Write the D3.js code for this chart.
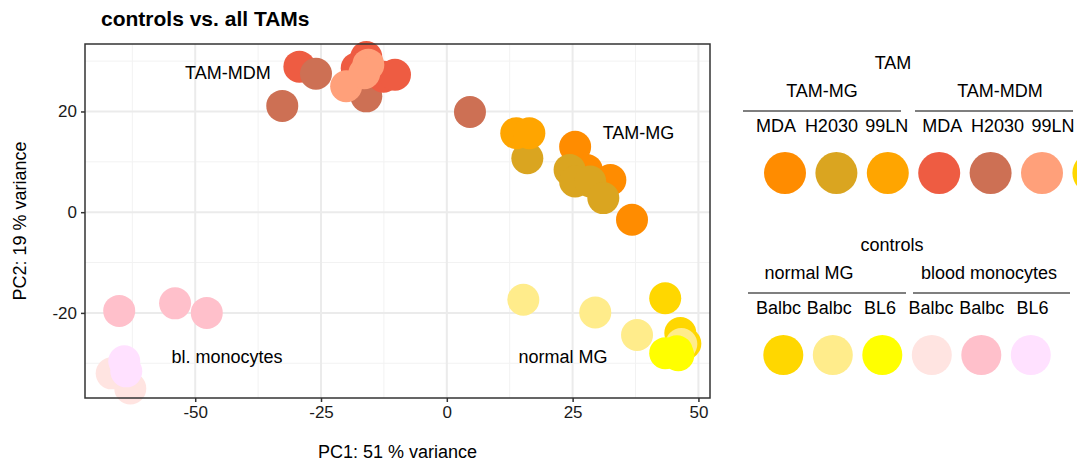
<!DOCTYPE html>
<html>
<head>
<meta charset="utf-8">
<script src="https://cdn.jsdelivr.net/npm/d3@7"></script>
<style>
  body { margin: 0; background: #fff; }
  text { font-family: "Liberation Sans", Arial, sans-serif; }
</style>
</head>
<body>
<script>
/* data */
var groupColors = {
    'TAM-MG MDA': '#FF8C00', 'TAM-MG H2030': '#DAA520', 'TAM-MG 99LN': '#FFA500',
    'TAM-MDM MDA': '#EE5C42', 'TAM-MDM H2030': '#CD7054', 'TAM-MDM 99LN': '#FFA07A',
    'MG Balbc': '#FFD700', 'MG Balbc2': '#FFEC8B', 'MG BL6': '#FFFF00',
    'mono Balbc': '#FFE4E1', 'mono Balbc2': '#FFC0CB', 'mono BL6': '#FFE1FF'
}

// samples, in drawing order
var sampleGroup = [
    'TAM-MDM H2030', 'TAM-MDM MDA', 'TAM-MDM MDA', 'TAM-MDM MDA', 'TAM-MDM MDA', 'TAM-MDM MDA',
    'TAM-MDM H2030', 'TAM-MDM H2030', 'TAM-MDM H2030',
    'TAM-MDM 99LN', 'TAM-MDM 99LN', 'TAM-MDM 99LN',
    'TAM-MG MDA', 'TAM-MG MDA', 'TAM-MG MDA', 'TAM-MG MDA',
    'TAM-MG H2030', 'TAM-MG H2030', 'TAM-MG H2030', 'TAM-MG H2030', 'TAM-MG H2030',
    'TAM-MG 99LN', 'TAM-MG 99LN',
    'MG Balbc', 'MG Balbc', 'MG Balbc',
    'MG Balbc2', 'MG Balbc2', 'MG Balbc2', 'MG Balbc2',
    'MG BL6', 'MG BL6', 'MG BL6',
    'mono Balbc', 'mono Balbc',
    'mono Balbc2', 'mono Balbc2', 'mono Balbc2',
    'mono BL6', 'mono BL6'
]
var pc1 = [
    -16.0, -29.3, -16.0, -17.9, -12.6, -10.3,
    -26.0, -32.7, 4.6,
    -20.0, -15.6, -16.4,
    25.5, 27.8, 32.5, 36.8,
    16.0, 24.4, 25.5, 28.5, 31.1,
    13.8, 16.4,
    43.4, 46.4, 47.4,
    15.2, 29.5, 37.8, 46.6,
    43.4, 45.7, 46.0,
    -66.6, -62.9,
    -65.1, -54.0, -47.7,
    -64.1, -63.7
]
var pc2 = [
    23.0, 28.9, 30.8, 28.6, 26.9, 27.3,
    27.5, 21.1, 19.9,
    25.0, 29.3, 27.6,
    13.0, 8.4, 6.4, -1.5,
    10.7, 8.4, 6.1, 6.1, 2.8,
    15.7, 15.7,
    -17.1, -24.0, -26.1,
    -17.4, -19.9, -24.4, -26.2,
    -28.0, -27.6, -28.4,
    -32.0, -35.0,
    -19.6, -18.1, -20.0,
    -29.6, -31.6
]

var xTicks = [-50, -25, 0, 25, 50]
var xMinor = [-62.5, -37.5, -12.5, 12.5, 37.5]
var yTicks = [-20, 0, 20]
var yMinor = [-30, -10, 10, 30]

var plotLabels = [
    { text: 'TAM-MDM', x: -43.5, y: 27.7 },
    { text: 'TAM-MG', x: 38.1, y: 15.8 },
    { text: 'bl. monocytes', x: -43.7, y: -28.7 },
    { text: 'normal MG', x: 23.1, y: -28.7 }
]

var tamTitle = 'TAM'
var tamHeads = ['TAM-MG', 'TAM-MDM']
var tamSub = ['MDA', 'H2030', '99LN', 'MDA', 'H2030', '99LN']
var tamKeys = ['TAM-MG MDA', 'TAM-MG H2030', 'TAM-MG 99LN', 'TAM-MDM MDA', 'TAM-MDM H2030', 'TAM-MDM 99LN', 'MG Balbc']

var ctrlTitle = 'controls'
var ctrlHeads = ['normal MG', 'blood monocytes']
var ctrlSub = ['Balbc', 'Balbc', 'BL6', 'Balbc', 'Balbc', 'BL6']
var ctrlKeys = ['MG Balbc', 'MG Balbc2', 'MG BL6', 'mono Balbc', 'mono Balbc2', 'mono BL6']

/* setup */
var width = 1077, height = 463
var panel = { left: 85, right: 710, top: 44, bottom: 398 }

var svg = d3.select('body').append('svg')
    .attr('width', width)
    .attr('height', height)

var x = d3.scaleLinear().domain([-71.9, 52.3]).range([panel.left, panel.right])
var y = d3.scaleLinear().domain([-36.9, 33.4]).range([panel.bottom, panel.top])

svg.append('text')
    .attr('x', 101).attr('y', 26)
    .style('font-size', '21px').style('font-weight', 'bold')
    .text('controls vs. all TAMs')

/* grid */
var grid = svg.append('g')
grid.selectAll('.xminor').data(xMinor).enter().append('line')
    .attr('x1', x).attr('x2', x).attr('y1', panel.top).attr('y2', panel.bottom)
    .attr('stroke', '#F2F2F2').attr('stroke-width', 1)
grid.selectAll('.yminor').data(yMinor).enter().append('line')
    .attr('y1', y).attr('y2', y).attr('x1', panel.left).attr('x2', panel.right)
    .attr('stroke', '#F2F2F2').attr('stroke-width', 1)
grid.selectAll('.xmajor').data(xTicks).enter().append('line')
    .attr('x1', x).attr('x2', x).attr('y1', panel.top).attr('y2', panel.bottom)
    .attr('stroke', '#EBEBEB').attr('stroke-width', 2)
grid.selectAll('.ymajor').data(yTicks).enter().append('line')
    .attr('y1', y).attr('y2', y).attr('x1', panel.left).attr('x2', panel.right)
    .attr('stroke', '#EBEBEB').attr('stroke-width', 2)

/* points */
var samples = d3.range(pc1.length).map(function(i) {
    return { g: sampleGroup[i], x: pc1[i], y: pc2[i] }
})
svg.append('g').selectAll('circle').data(samples).enter().append('circle')
    .attr('cx', function(d) { return x(d.x) })
    .attr('cy', function(d) { return y(d.y) })
    .attr('r', 16)
    .attr('fill', function(d) { return groupColors[d.g] })

svg.append('g').selectAll('text').data(plotLabels).enter().append('text')
    .attr('x', function(d) { return x(d.x) })
    .attr('y', function(d) { return y(d.y) })
    .attr('dy', '0.35em')
    .attr('text-anchor', 'middle')
    .style('font-size', '18px')
    .text(function(d) { return d.text })

/* border + axes */
svg.append('rect')
    .attr('x', panel.left).attr('y', panel.top)
    .attr('width', panel.right - panel.left).attr('height', panel.bottom - panel.top)
    .attr('fill', 'none').attr('stroke', '#333').attr('stroke-width', 1.5)

var fmt = function(d) { return String(d) }  // plain hyphen, like R
var xAxis = svg.append('g')
    .attr('transform', 'translate(0,' + panel.bottom + ')')
    .call(d3.axisBottom(x).tickValues(xTicks).tickFormat(fmt).tickSize(4).tickPadding(4))
var yAxis = svg.append('g')
    .attr('transform', 'translate(' + panel.left + ',0)')
    .call(d3.axisLeft(y).tickValues(yTicks).tickFormat(fmt).tickSize(4).tickPadding(4))
;[xAxis, yAxis].forEach(function(a) {
    a.select('.domain').remove()
    a.selectAll('line').attr('stroke', '#333').attr('stroke-width', 1.5)
    a.selectAll('text').style('font-size', '17px').attr('fill', '#1a1a1a')
        .style('font-family', '"Liberation Sans", Arial, sans-serif')
})

svg.append('text')
    .attr('x', (panel.left + panel.right) / 2).attr('y', 458)
    .attr('text-anchor', 'middle').style('font-size', '18px')
    .text('PC1: 51 % variance')
svg.append('text')
    .attr('transform', 'translate(26,' + (panel.top + panel.bottom) / 2 + ') rotate(-90)')
    .attr('text-anchor', 'middle').style('font-size', '18px')
    .text('PC2: 19 % variance')

/* legends */
function legend(top, title, heads, sub, keys, opt) {
    var g = svg.append('g')
    var keyX = d3.scaleLinear().domain([0, 1]).range([opt.key0, opt.key0 + opt.keyStep])
    var subX = d3.scaleLinear().domain([0, 1]).range([opt.sub0, opt.sub0 + opt.subStep])

    g.append('text').attr('x', opt.titleX).attr('y', top)
        .attr('text-anchor', 'middle').style('font-size', '18px').text(title)

    heads.forEach(function(h, i) {
        var seg = opt.lines[i]
        g.append('text').attr('x', opt.headX[i]).attr('y', top + 28)
            .attr('text-anchor', 'middle').style('font-size', '18px').text(h)
        g.append('line').attr('x1', seg[0]).attr('x2', seg[1])
            .attr('y1', top + 42).attr('y2', top + 42)
            .attr('stroke', '#000').attr('stroke-width', 1.2)
    })

    g.selectAll('.sub').data(sub).enter().append('text')
        .attr('x', function(d, i) { return subX(i) })
        .attr('y', top + 63)
        .attr('text-anchor', 'middle').style('font-size', '18px')
        .text(function(d) { return d })

    g.selectAll('circle').data(keys).enter().append('circle')
        .attr('cx', function(d, i) { return keyX(i) })
        .attr('cy', top + opt.keyDy)
        .attr('r', opt.r)
        .attr('fill', function(d) { return groupColors[d] })
}

legend(69, tamTitle, tamHeads, tamSub, tamKeys, {
    titleX: 893, headX: [822, 1000],
    lines: [[743, 901], [915, 1073]],
    sub0: 776, subStep: 55.4,
    key0: 785, keyStep: 51.4, keyDy: 104, r: 21
})
legend(251, ctrlTitle, ctrlHeads, ctrlSub, ctrlKeys, {
    titleX: 892, headX: [809, 989],
    lines: [[748, 906], [913, 1070]],
    sub0: 778.5, subStep: 50.8,
    key0: 783.3, keyStep: 49.5, keyDy: 104, r: 20
})
</script>
</body>
</html>
